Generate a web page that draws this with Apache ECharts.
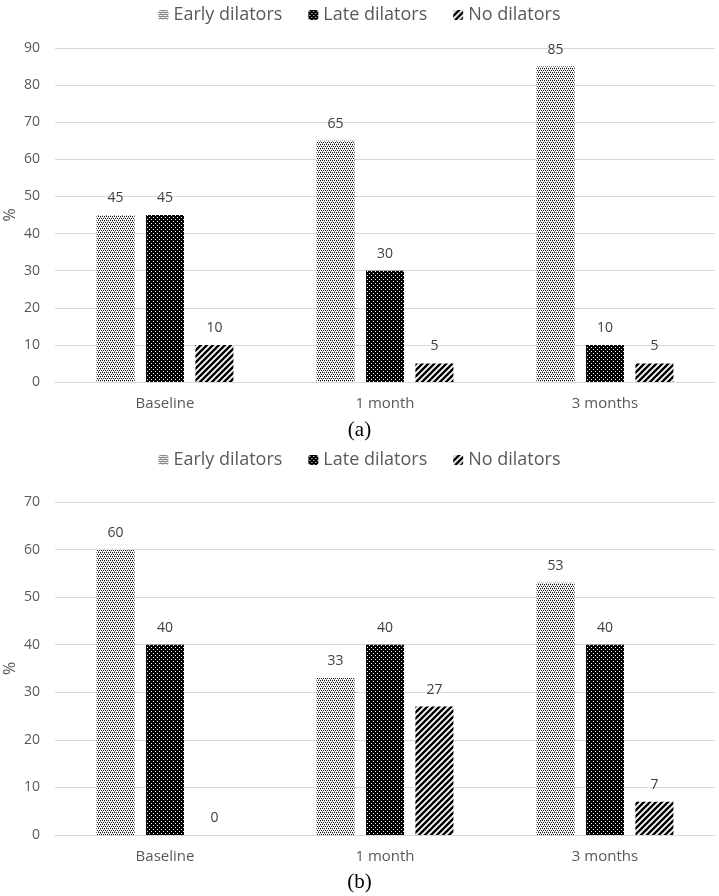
<!DOCTYPE html>
<html>
<head>
<meta charset="utf-8">
<script src="https://cdn.jsdelivr.net/npm/echarts@6/dist/echarts.min.js"></script>
<style>
  html, body { margin: 0; padding: 0; background: #fff; }
  #chart { width: 719px; height: 896px; }
</style>
</head>
<body>
<div id="chart"></div>
<script>
// categories and values
const categories = ['Baseline', '1 month', '3 months'];
const seriesNames = ['Early dilators', 'Late dilators', 'No dilators'];

// panel (a)
const earlyA = [45, 65, 85];
const lateA = [45, 30, 10];
const noneA = [10, 5, 5];

// panel (b)
const earlyB = [60, 33, 53];
const lateB = [40, 40, 40];
const noneB = [0, 27, 7];

// fill patterns
const makeTile = (size, draw) => {
  const c = document.createElement('canvas');
  c.width = size; c.height = size;
  const ctx = c.getContext('2d');
  draw(ctx, size);
  return c;
};
const lightDots = makeTile(4, (ctx, s) => {
  ctx.fillStyle = '#fff'; ctx.fillRect(0, 0, s, s);
  ctx.fillStyle = '#111';
  ctx.fillRect(0, 0, 1, 1); ctx.fillRect(2, 0, 1, 1);
  ctx.fillRect(1, 2, 1, 1); ctx.fillRect(3, 2, 1, 1);
  ctx.fillStyle = '#999';
  ctx.fillRect(0, 1, 1, 1); ctx.fillRect(2, 3, 1, 1);
});
const darkDots = makeTile(4, (ctx, s) => {
  ctx.fillStyle = '#000'; ctx.fillRect(0, 0, s, s);
  ctx.fillStyle = '#fff';
  ctx.fillRect(1, 1, 1, 1); ctx.fillRect(3, 3, 1, 1);
});
const stripes = makeTile(6, (ctx, s) => {
  ctx.fillStyle = '#fff'; ctx.fillRect(0, 0, s, s);
  ctx.strokeStyle = '#000'; ctx.lineWidth = 2.4;
  ctx.beginPath();
  ctx.moveTo(-1, s + 1); ctx.lineTo(s + 1, -1);
  ctx.moveTo(-1, 1); ctx.lineTo(1, -1);
  ctx.moveTo(s - 1, s + 1); ctx.lineTo(s + 1, s - 1);
  ctx.stroke();
});
const fills = [lightDots, darkDots, stripes].map(img => ({ image: img, repeat: 'repeat' }));

const chart = echarts.init(document.getElementById('chart'));

const grids = [
  { left: 55, right: 4, top: 48, height: 334, containLabel: false, outerBoundsMode: 'none' },
  { left: 55, right: 4, top: 502, height: 333, containLabel: false, outerBoundsMode: 'none' }
];

const makeXAxis = (gridIndex) => ({
  type: 'category',
  gridIndex,
  data: categories,
  axisLine: { lineStyle: { color: '#d9d9d9' } },
  axisTick: { show: false },
  axisLabel: { color: '#595959', fontSize: 15, fontFamily: 'Open Sans', margin: 14 }
});

const makeYAxis = (gridIndex, max) => ({
  type: 'value',
  gridIndex,
  min: 0,
  max,
  interval: 10,
  name: '%',
  nameLocation: 'middle',
  nameRotate: 90,
  nameGap: 37,
  nameMoveOverlap: false,
  nameTextStyle: { color: '#595959', fontSize: 16, fontFamily: 'Open Sans' },
  axisLine: { show: false },
  axisTick: { show: false },
  splitLine: { lineStyle: { color: '#d9d9d9' } },
  axisLabel: { color: '#595959', fontSize: 14, fontFamily: 'Open Sans', margin: 15 }
});

const makeSeries = (name, data, idx, axis) => ({
  name,
  type: 'bar',
  xAxisIndex: axis,
  yAxisIndex: axis,
  data,
  barWidth: 38,
  barGap: '30%',
  itemStyle: { color: fills[idx] },
  label: {
    show: true,
    position: 'top',
    distance: 10,
    color: '#404040',
    fontSize: 14,
    fontFamily: 'Open Sans'
  }
});

const legendCommon = {
  data: seriesNames,
  left: 'center',
  itemWidth: 10,
  itemHeight: 10,
  itemGap: 26,
  textStyle: { color: '#595959', fontSize: 18, fontFamily: 'Open Sans' }
};

chart.setOption({
  backgroundColor: '#fff',
  animation: false,
  title: [
    { text: '(a)', left: 'center', top: 415, textStyle: { fontFamily: 'Liberation Serif', fontSize: 21, fontWeight: 'normal', color: '#000' } },
    { text: '(b)', left: 'center', top: 867, textStyle: { fontFamily: 'Liberation Serif', fontSize: 21, fontWeight: 'normal', color: '#000' } }
  ],
  legend: [
    Object.assign({ top: 1 }, legendCommon),
    Object.assign({ top: 446 }, legendCommon)
  ],
  grid: grids,
  xAxis: [makeXAxis(0), makeXAxis(1)],
  yAxis: [makeYAxis(0, 90), makeYAxis(1, 70)],
  series: [
    makeSeries(seriesNames[0], earlyA, 0, 0),
    makeSeries(seriesNames[1], lateA, 1, 0),
    makeSeries(seriesNames[2], noneA, 2, 0),
    makeSeries(seriesNames[0], earlyB, 0, 1),
    makeSeries(seriesNames[1], lateB, 1, 1),
    makeSeries(seriesNames[2], noneB, 2, 1)
  ]
});
</script>
</body>
</html>
